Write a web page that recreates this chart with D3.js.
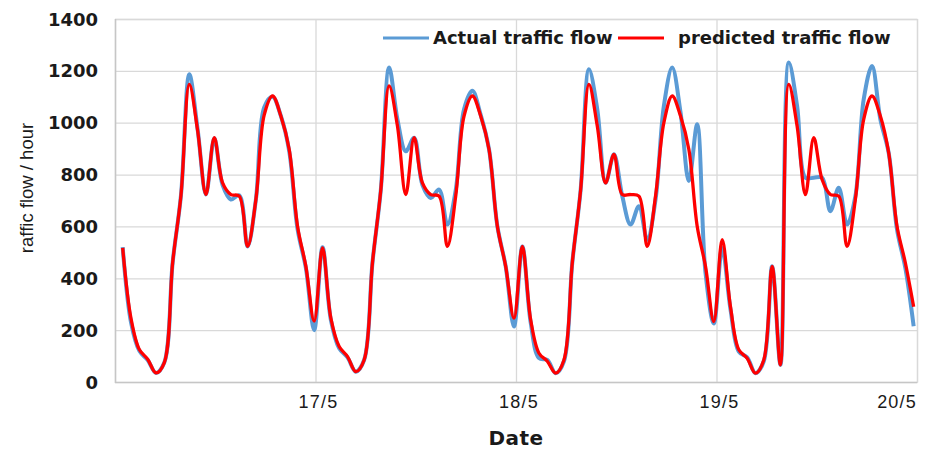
<!DOCTYPE html>
<html>
<head>
<meta charset="utf-8">
<script src="https://cdn.jsdelivr.net/npm/d3@7"></script>
<style>
  html, body { margin: 0; padding: 0; background: #fff; }
  svg { display: block; }
</style>
</head>
<body>
<svg id="chart" width="932" height="451"></svg>
<script>
// ---------- data ----------
const dayLabels = ["17/5", "18/5", "19/5", "20/5"];
const dayHours = [24, 48, 72, 96];
const yTicks = [0, 200, 400, 600, 800, 1000, 1200, 1400];
const seriesNames = ["Actual traffic flow", "predicted traffic flow"];

const actual = [
  520,230,120,85,35,75,460,720,1187,975,723,940,760,704,720,523,704,1060,1100,1026,890,590,440,200,
  520,240,130,95,40,85,460,740,1213,1013,890,942,760,710,742,607,740,1052,1123,1030,897,601,446,214,
  523,230,92,85,34,80,460,740,1206,1052,768,878,717,607,678,549,704,1065,1213,1040,775,994,421,226,
  517,280,117,95,34,80,446,66,1232,1065,788,788,788,659,749,607,717,1090,1219,1013,884,588,440,215
];
const predicted = [
  517,245,125,88,35,75,460,720,1148,970,723,942,768,723,717,523,704,1030,1103,1026,897,601,446,235,
  517,247,137,98,40,85,460,740,1142,987,723,942,768,723,717,523,717,1026,1103,1026,897,601,446,246,
  523,240,111,80,34,85,460,740,1148,987,768,878,723,723,717,523,717,1000,1103,1026,897,601,446,233,
  549,290,124,92,34,85,446,66,1148,987,723,942,781,723,717,523,704,1013,1103,1026,884,601,460,290
];

// ---------- layout ----------
const svg = d3.select("#chart");
const L = 115, R = 917, T = 19, B = 382;
const gridColor = "#d9d9d9";

const xDay = d3.scaleLinear().domain([0, 96]).range([L, R]);
const xPt = d3.scalePoint().domain(d3.range(actual.length)).range([xDay(0.92), xDay(95.6)]);
const y = d3.scaleLinear().domain([0, 1400]).range([B, T]);

// horizontal gridlines
svg.append("g").selectAll("line").data(yTicks.filter(d => d > 0)).join("line")
  .attr("x1", L).attr("x2", R)
  .attr("y1", d => y(d) + 0.5).attr("y2", d => y(d) + 0.5)
  .attr("stroke", gridColor).attr("stroke-width", 1.3);

// vertical gridlines
svg.append("g").selectAll("line").data(dayHours).join("line")
  .attr("x1", d => xDay(d) + 0.5).attr("x2", d => xDay(d) + 0.5)
  .attr("y1", T).attr("y2", B)
  .attr("stroke", gridColor).attr("stroke-width", 1.3);

// frame
svg.append("rect").attr("x", L + 0.5).attr("y", T + 0.5)
  .attr("width", R - L).attr("height", B - T)
  .attr("fill", "none").attr("stroke", gridColor).attr("stroke-width", 1.3);
svg.append("line").attr("x1", L + 0.5).attr("x2", L + 0.5).attr("y1", T).attr("y2", B + 1)
  .attr("stroke", "#c6c6c6").attr("stroke-width", 1.5);
svg.append("line").attr("x1", L).attr("x2", R).attr("y1", B + 0.5).attr("y2", B + 0.5)
  .attr("stroke", "#c6c6c6").attr("stroke-width", 1.5);

// y tick labels
svg.append("g").selectAll("text").data(yTicks).join("text")
  .attr("x", 98).attr("y", d => y(d) + 6.5)
  .attr("text-anchor", "end")
  .attr("font-family", "DejaVu Sans").attr("font-weight", "bold")
  .attr("font-size", 18).attr("fill", "#1a1a1a")
  .text(d => d);

// x tick labels
svg.append("g").selectAll("text").data(dayLabels).join("text")
  .attr("x", (d, i) => i === dayLabels.length - 1 ? xDay(dayHours[i]) : xDay(dayHours[i]) + 3)
  .attr("y", 408)
  .attr("text-anchor", (d, i) => i === dayLabels.length - 1 ? "end" : "middle")
  .attr("font-family", "Liberation Sans").attr("font-size", 18)
  .attr("letter-spacing", 1.2).attr("fill", "#1a1a1a")
  .text(d => d);

// axis titles
svg.append("text").attr("x", 516).attr("y", 445).attr("text-anchor", "middle")
  .attr("font-family", "DejaVu Sans").attr("font-weight", "bold")
  .attr("font-size", 20).attr("letter-spacing", 0.5).attr("fill", "#1a1a1a").text("Date");
svg.append("text").attr("transform", "translate(33,188) rotate(-90)")
  .attr("text-anchor", "middle")
  .attr("font-family", "Liberation Sans").attr("font-size", 18.5).attr("fill", "#1a1a1a")
  .text("raffic flow / hour");

// lines
const line = d3.line()
  .x((d, i) => xPt(i))
  .y(d => y(d))
  .curve(d3.curveCatmullRom.alpha(0.5));

svg.append("path").datum(actual).attr("d", line)
  .attr("fill", "none").attr("stroke", "#5b9bd5").attr("stroke-width", 4)
  .attr("stroke-linejoin", "round");
svg.append("path").datum(predicted).attr("d", line)
  .attr("fill", "none").attr("stroke", "#ff0000").attr("stroke-width", 3.3)
  .attr("stroke-linejoin", "round");

// legend
const legend = svg.append("g");
const legItems = [
  { name: seriesNames[0], color: "#5b9bd5", x: 383, tx: 433 },
  { name: seriesNames[1], color: "#ff0000", x: 618, tx: 678 }
];
legItems.forEach(it => {
  legend.append("line").attr("x1", it.x).attr("x2", it.x + 46)
    .attr("y1", 38).attr("y2", 38)
    .attr("stroke", it.color).attr("stroke-width", 3);
  legend.append("text").attr("x", it.tx).attr("y", 44)
    .attr("font-family", "DejaVu Sans").attr("font-weight", "bold")
    .attr("font-size", 18).attr("fill", "#1a1a1a")
    .text(it.name);
});
</script>
</body>
</html>
